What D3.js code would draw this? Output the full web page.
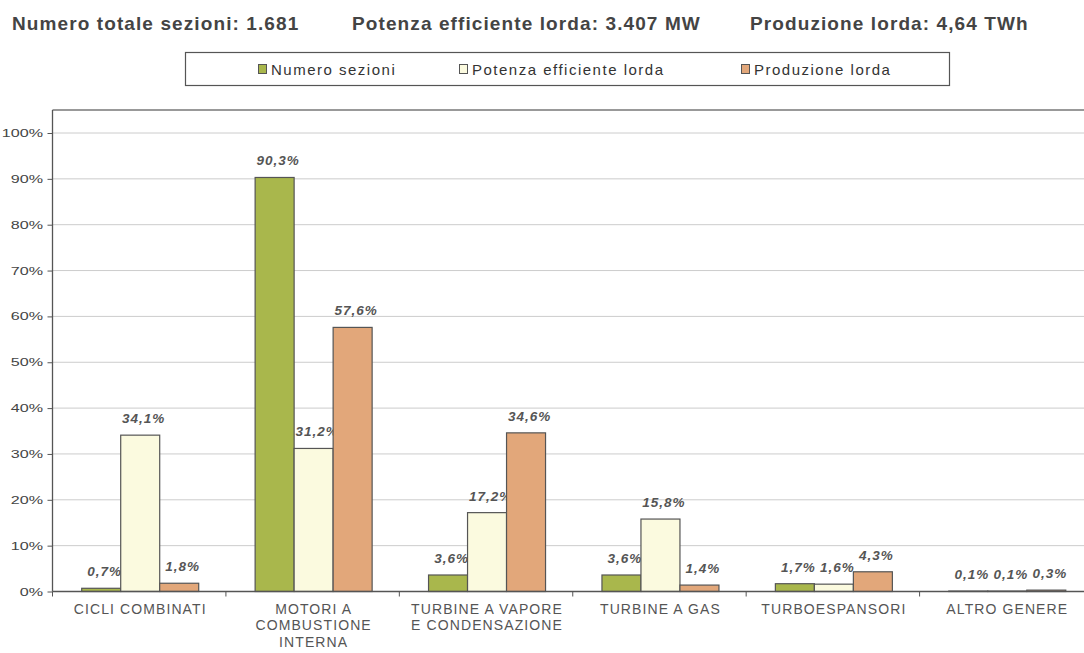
<!DOCTYPE html>
<html><head><meta charset="utf-8">
<script src="https://cdn.jsdelivr.net/npm/d3@7"></script>
<style>
body{margin:0;background:#fff;}
svg{font-family:Arial,"Liberation Sans",sans-serif;}
</style></head>
<body>
<svg id="c" width="1084" height="653"></svg>
<script>
const categories = [["CICLI COMBINATI"],["MOTORI A","COMBUSTIONE","INTERNA"],["TURBINE A VAPORE","E CONDENSAZIONE"],["TURBINE A GAS"],["TURBOESPANSORI"],["ALTRO GENERE"]];
const seriesNames = ["Numero sezioni","Potenza efficiente lorda","Produzione lorda"];
const numeroSezioni = [0.7, 90.3, 3.6, 3.6, 1.7, 0.1];
const potenzaEfficiente = [34.1, 31.2, 17.2, 15.8, 1.6, 0.1];
const produzioneLorda = [1.8, 57.6, 34.6, 1.4, 4.3, 0.3];
const yTicks = [0,10,20,30,40,50,60,70,80,90,100];
const headers = ["Numero totale sezioni: 1.681","Potenza efficiente lorda: 3.407 MW","Produzione lorda: 4,64 TWh"];
const colors = ["#a9b74c","#fbfadf","#e2a77a"];

const series = [numeroSezioni, potenzaEfficiente, produzioneLorda];
const svg = d3.select("#c");
const pLeft = 52.5, pRight = 1093, pTop = 110, pBottom = 591.5;
const keys = categories.map((c,i)=>i);
const x = d3.scaleBand().domain(keys).range([pLeft,pRight]);
const x1 = d3.scaleBand().domain([0,1,2]).range([0,117]);
const y = d3.scaleLinear().domain([0,100]).range([pBottom,133]);

// headers
const hx = [12,352,750];
headers.forEach((h,i)=>svg.append("text").attr("x",hx[i]).attr("y",30).attr("font-size",19).attr("font-weight","bold")
  .attr("letter-spacing",1.1).attr("fill","#444").text(h));

// legend
svg.append("rect").attr("x",185.5).attr("y",52.5).attr("width",764).attr("height",33).attr("fill","#fff").attr("stroke","#555").attr("stroke-width",1.2);
const lx = [258,459,741];
seriesNames.forEach((n,i)=>{
  svg.append("rect").attr("x",lx[i]+0.5).attr("y",64.5).attr("width",8).attr("height",9).attr("fill",colors[i]).attr("stroke","#555");
  svg.append("text").attr("x",lx[i]+13).attr("y",75).attr("font-size",15).attr("letter-spacing",1.5).attr("fill","#333").text(n);
});

// grid
svg.append("g").selectAll("line").data(yTicks.filter(d=>d>0)).join("line")
  .attr("x1",pLeft).attr("x2",1084).attr("y1",d=>y(d)).attr("y2",d=>y(d)).attr("stroke","#ccc").attr("stroke-width",1);
svg.append("line").attr("x1",pLeft).attr("x2",1084).attr("y1",pTop).attr("y2",pTop).attr("stroke","#777").attr("stroke-width",1.5);

// y axis
const ya = svg.append("g").attr("transform",`translate(${pLeft},0)`).call(d3.axisLeft(y).tickValues(yTicks).tickFormat("").tickSize(5).tickSizeOuter(0));
ya.select(".domain").remove();
ya.selectAll("line").attr("stroke","#555");
svg.append("g").selectAll("text").data(yTicks).join("text")
  .attr("transform",d=>`translate(43,${y(d)+4}) scale(1.4,1)`)
  .attr("text-anchor","end").attr("font-size",11.5).attr("fill","#444").text(d=>d+"%");
svg.append("line").attr("x1",pLeft).attr("x2",pLeft).attr("y1",pTop).attr("y2",pBottom).attr("stroke","#555").attr("stroke-width",1.3);

// bars
const g = svg.append("g");
keys.forEach(k=>{
  const gx = x(k) + (x.bandwidth()-117)/2 + 1;
  series.forEach((s,si)=>{
    const v = s[k];
    g.append("rect").attr("x",gx + x1(si)).attr("y",y(v)).attr("width",x1.bandwidth()).attr("height",pBottom - y(v))
      .attr("fill",colors[si]).attr("stroke","#555").attr("stroke-width",1.2);
    g.append("text").attr("x",gx + x1(si) + x1.bandwidth()/2 + 3.5).attr("y",y(v)-12)
      .attr("text-anchor","middle").attr("font-size",13.5).attr("font-weight","bold").attr("font-style","italic")
      .attr("letter-spacing",1).attr("fill","#555").text(String(v).replace(".",",")+"%");
  });
});

// x axis
svg.append("line").attr("x1",pLeft).attr("x2",1084).attr("y1",pBottom).attr("y2",pBottom).attr("stroke","#555").attr("stroke-width",1.3);
keys.concat([keys.length]).forEach(k=>{
  const xx = k<keys.length ? x(k) : pRight;
  svg.append("line").attr("x1",xx).attr("x2",xx).attr("y1",pBottom).attr("y2",pBottom+5).attr("stroke","#555");
});
keys.forEach(k=>{
  const t = svg.append("text").attr("text-anchor","middle").attr("font-size",14).attr("fill","#555").attr("letter-spacing",1.1);
  categories[k].forEach((line,li)=>t.append("tspan").attr("x",x(k)+x.bandwidth()/2+1).attr("y",pBottom+22+li*16.5).text(line));
});
</script>
</body></html>
